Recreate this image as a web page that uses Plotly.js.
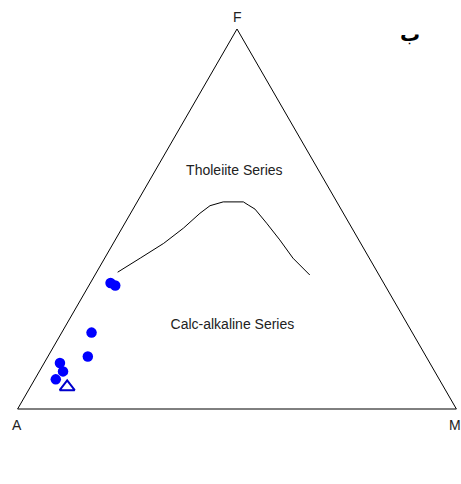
<!DOCTYPE html>
<html>
<head>
<meta charset="utf-8">
<script src="https://cdn.plot.ly/plotly-3.0.1.min.js"></script>
<style>
  html, body { margin: 0; padding: 0; background: #fff; }
  #afm { width: 461px; height: 484px; }
</style>
</head>
<body>
<div id="afm"></div>
<script>
//#region data
// ternary fractions: F (top), A (bottom left), M (bottom right)
const sampleF = [0.332, 0.325, 0.201, 0.138, 0.121, 0.099, 0.078];
const sampleA = [0.623, 0.615, 0.731, 0.771, 0.843, 0.847, 0.874];
const sampleM = [0.046, 0.060, 0.068, 0.091, 0.036, 0.054, 0.048];

const refF = [0.058];
const refA = [0.858];
const refM = [0.084];

// Irvine & Baragar divide
const lineF = [0.360, 0.397, 0.436, 0.476, 0.515, 0.535, 0.545, 0.545, 0.537, 0.526, 0.489, 0.445, 0.397, 0.353];
const lineA = [0.592, 0.522, 0.449, 0.384, 0.327, 0.294, 0.259, 0.213, 0.206, 0.196, 0.188, 0.180, 0.174, 0.158];
const lineM = [0.048, 0.081, 0.115, 0.140, 0.158, 0.171, 0.196, 0.242, 0.257, 0.278, 0.323, 0.375, 0.429, 0.490];

const fieldNames = ['Tholeiite Series', 'Calc-alkaline Series'];
const fieldF = [0.626, 0.221];
const fieldA = [0.193, 0.400];
const fieldM = [0.181, 0.379];

const cornerNames = ['F', 'A', 'M'];
//#endregion

//#region traces
const traceLine = { type: 'scatterternary', mode: 'lines', a: lineF, b: lineA, c: lineM,
  line: { color: '#000', width: 1 }, hoverinfo: 'skip' };
const traceSamples = { type: 'scatterternary', mode: 'markers', a: sampleF, b: sampleA, c: sampleM,
  marker: { color: '#0000ff', size: 10.5, line: { width: 0 } } };
const traceRef = { type: 'scatterternary', mode: 'markers', a: refF, b: refA, c: refM,
  marker: { symbol: 'triangle-up-open', color: '#0000cc', size: 13, line: { width: 2 } } };
const traceText = { type: 'scatterternary', mode: 'text', a: fieldF, b: fieldA, c: fieldM,
  text: fieldNames, textfont: { family: 'Arial, Liberation Sans, sans-serif', size: 14, color: '#222' },
  hoverinfo: 'skip' };
//#endregion

//#region layout
const axisStyle = { showticklabels: false, ticks: '', showgrid: false,
  linecolor: '#000', linewidth: 1, min: 0, title: { text: '' } };
const labelFont = { family: 'Arial, Liberation Sans, sans-serif', size: 14, color: '#222' };
const anchored = { xref: 'paper', yref: 'paper', xanchor: 'center', yanchor: 'middle', showarrow: false };

const layout = {
  width: 461, height: 484,
  paper_bgcolor: '#fff',
  margin: { l: 17, r: 4, t: 29, b: 75 },
  showlegend: false,
  ternary: {
    sum: 1,
    bgcolor: '#fff',
    aaxis: axisStyle,
    baxis: axisStyle,
    caxis: axisStyle
  },
  annotations: [
    { ...anchored, x: 0.5, y: 1, yshift: 12, text: cornerNames[0], font: labelFont },
    { ...anchored, x: 0, y: 0, yshift: -16, text: cornerNames[1], font: labelFont },
    { ...anchored, x: 1, y: 0, xshift: -2, yshift: -16, text: cornerNames[2], font: labelFont },
    { ...anchored, x: 0.893, y: 0.987,
      text: 'ب', font: { family: 'DejaVu Sans, sans-serif', size: 20, weight: 'bold', color: '#000' } }
  ]
};

Plotly.newPlot('afm', [traceLine, traceSamples, traceRef, traceText], layout, { staticPlot: true });
//#endregion
</script>
</body>
</html>
